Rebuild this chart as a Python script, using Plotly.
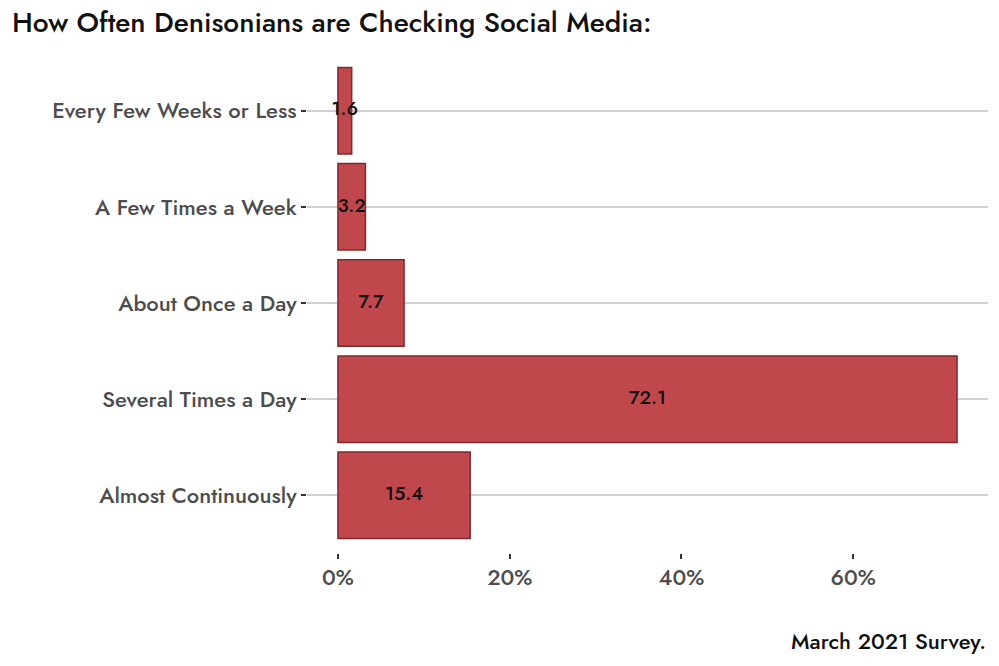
import plotly.graph_objects as go

categories = ["Almost Continuously", "Several Times a Day", "About Once a Day",
              "A Few Times a Week", "Every Few Weeks or Less"]
values = [15.4, 72.1, 7.7, 3.2, 1.6]
labels = ["15.4", "72.1", "7.7", "3.2", "1.6"]
x_ticks = [0, 20, 40, 60]
x_tick_labels = ["0%", "20%", "40%", "60%"]

FONT = "Jost, Futura, Lato, sans-serif"

fig = go.Figure()
fig.add_trace(go.Bar(
    y=categories, x=values, orientation="h", width=0.9,
    marker=dict(color="#C0474B", line=dict(color="#7E2A2E", width=1.5)),
    hoverinfo="skip",
))
fig.add_trace(go.Scatter(
    y=categories, x=[v / 2 for v in values], mode="text", text=labels,
    textfont=dict(family=FONT, size=19, color="#111111", weight=500),
    hoverinfo="skip",
))

xmax = max(values)
fig.update_layout(
    width=999, height=666,
    paper_bgcolor="white", plot_bgcolor="white",
    showlegend=False,
    margin=dict(l=307, r=11, t=53, b=113),
    title=dict(text="How Often Denisonians are Checking Social Media:",
               x=0.012, xanchor="left", y=0.967, yanchor="middle",
               font=dict(family=FONT, size=28, color="#111111", weight=500)),
    xaxis=dict(range=[-0.05 * xmax, 1.05 * xmax], tickvals=x_ticks, ticktext=x_tick_labels,
               showgrid=False, zeroline=False, showline=False,
               ticks="outside", ticklen=5, tickwidth=1.5, tickcolor="#333333",
               tickfont=dict(family=FONT, size=22, color="#4D4D4D", weight=500)),
    yaxis=dict(range=[-0.6, 4.6], categoryorder="array", categoryarray=categories,
               showgrid=True, gridcolor="#D0D0D0", gridwidth=1.5,
               zeroline=False, showline=False,
               ticks="outside", ticklen=5, tickwidth=1.5, tickcolor="#333333",
               tickfont=dict(family=FONT, size=22, color="#4D4D4D", weight=500)),
    annotations=[dict(text="March 2021 Survey.", xref="paper", yref="paper",
                      x=1.0, y=-0.175, xanchor="right", yanchor="middle", showarrow=False,
                      font=dict(family=FONT, size=22, color="#111111", weight=500))],
)
fig.write_html("out.html", config={"displayModeBar": False},
               post_script="document.body.style.margin='0';")
